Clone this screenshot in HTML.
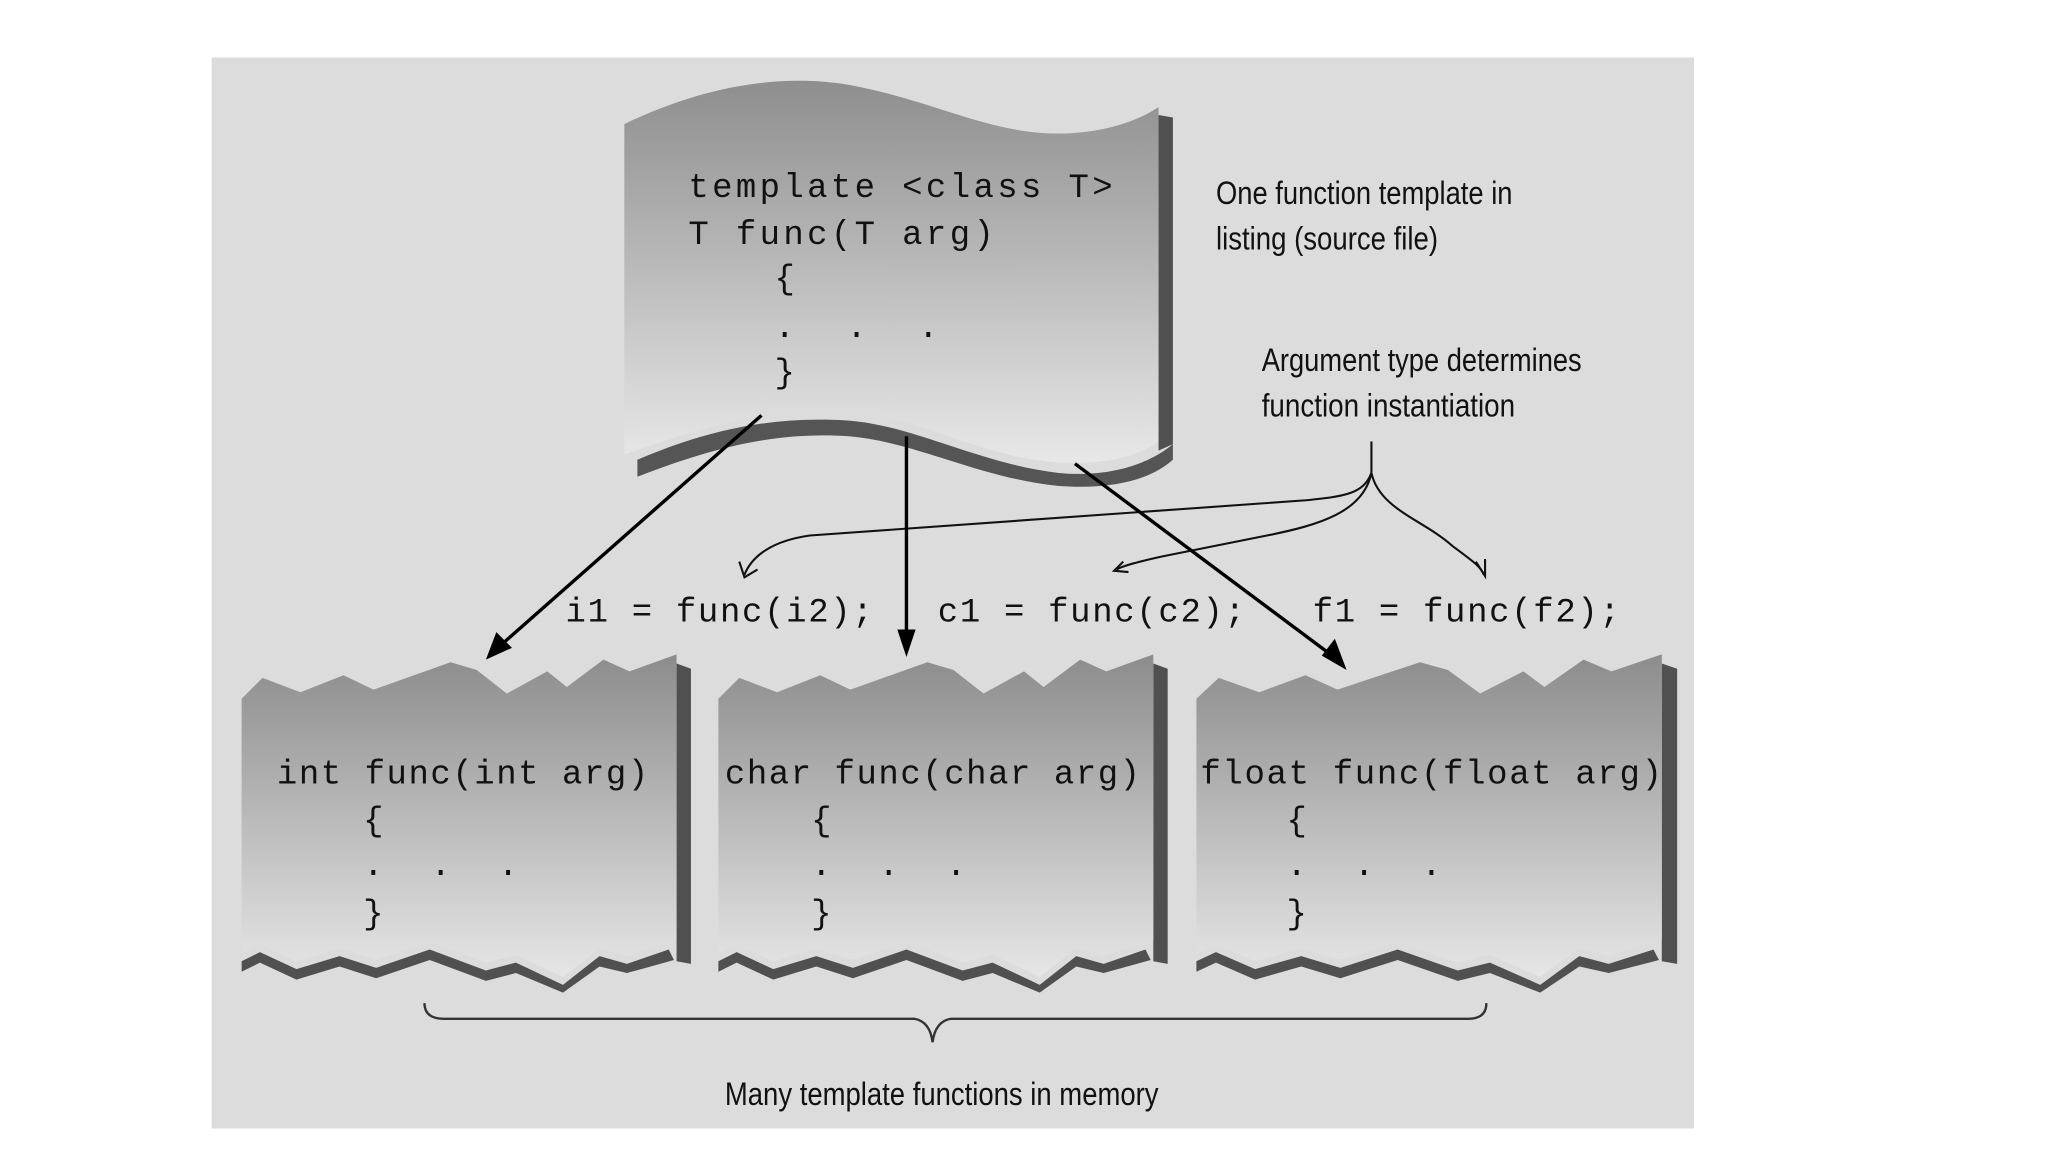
<!DOCTYPE html>
<html><head><meta charset="utf-8"><style>
html,body{margin:0;padding:0;background:#fff;}
svg{display:block;}
.m{font-family:"Liberation Mono","DejaVu Sans Mono",monospace;font-size:26px;fill:#111;}
.s{font-family:"Liberation Sans Narrow","Liberation Sans",sans-serif;font-size:25px;fill:#111;}
</style></head><body>
<svg width="2048" height="1152" viewBox="0 0 1568 882" xmlns="http://www.w3.org/2000/svg">
<defs>
<linearGradient id="g1" x1="0" y1="0" x2="0" y2="1">
<stop offset="0" stop-color="#8e8e8e"/><stop offset="1" stop-color="#e8e8e8"/></linearGradient>
<linearGradient id="g2" x1="0" y1="0" x2="0" y2="1">
<stop offset="0" stop-color="#8c8c8c"/><stop offset="1" stop-color="#e6e6e6"/></linearGradient>
<g id="box">
<polygon points="518,508 529,512 529,738 518,736" fill="#505050"/>
<path d="M185,736 L199,729 L227,742 L260,732 L288,741 L329,727 L372,743 L395,737 L431,754 L459,732 L480,738 L512,727 L516,735 L480,745 L459,740 L431,760 L395,745 L372,751 L329,735 L288,749 L260,740 L227,750 L199,737 L185,744 Z" fill="#505050"/>
<path d="M185,535 L201,519 L230,530 L263,517 L286,528 L345,507 L365,513 L388,531 L419,514 L434,526 L462,505 L482,514 L518,501 L518,720 L512,721 L480,732 L459,726 L431,748 L395,731 L372,737 L329,721 L288,735 L260,726 L227,736 L199,723 L185,730 Z" fill="url(#g2)"/>
</g>
</defs>
<rect x="0" y="0" width="1568" height="882" fill="#fff"/>
<rect x="162" y="44" width="1135" height="820" fill="#dcdcdc"/>

<!-- top template sheet -->
<polygon points="887,88 898,90 898,340 887,345" fill="#505050"/>
<path d="M488,352 C540,330 590,318 650,322 C700,326 750,355 810,362 C850,366 880,355 898,340 L898,352 C880,368 850,375 810,372 C750,366 700,338 650,334 C590,330 540,345 488,365 Z" fill="#555"/>
<path d="M478,95 C530,70 590,55 650,65 C720,78 760,105 820,102 C850,100 872,92 887,82 L887,338 C870,350 845,356 810,354 C750,350 700,318 650,314 C590,310 530,330 478,348 Z" fill="url(#g1)"/>

<text class="m" x="527" y="151" letter-spacing="2.6">template &lt;class T&gt;</text>
<text class="m" x="527" y="187" letter-spacing="2.6">T func(T arg)</text>
<text class="m" x="593" y="221">{</text>
<text class="m" x="593" y="258" letter-spacing="11.9">. . .</text>
<text class="m" x="593" y="293">}</text>

<text class="s" x="931" y="156" textLength="227" lengthAdjust="spacingAndGlyphs">One function template in</text>
<text class="s" x="931" y="191" textLength="170" lengthAdjust="spacingAndGlyphs">listing (source file)</text>
<text class="s" x="966" y="284" textLength="245" lengthAdjust="spacingAndGlyphs">Argument type determines</text>
<text class="s" x="966" y="319" textLength="194" lengthAdjust="spacingAndGlyphs">function instantiation</text>

<!-- bottom sheets -->
<use href="#box"/>
<use href="#box" transform="translate(365,0)"/>
<use href="#box" transform="translate(916,0) scale(1.07,1) translate(-185,0)"/>

<text class="m" x="212" y="600" letter-spacing="1.2">int func(int arg)</text>
<text class="m" x="278" y="636">{</text>
<text class="m" x="278" y="670" letter-spacing="10.2">. . .</text>
<text class="m" x="278" y="707">}</text>
<text class="m" x="555" y="600" letter-spacing="1.2">char func(char arg)</text>
<text class="m" x="621" y="636">{</text>
<text class="m" x="621" y="670" letter-spacing="10.2">. . .</text>
<text class="m" x="621" y="707">}</text>
<text class="m" x="919" y="600" letter-spacing="1.3">float func(float arg)</text>
<text class="m" x="985" y="636">{</text>
<text class="m" x="985" y="670" letter-spacing="10.2">. . .</text>
<text class="m" x="985" y="707">}</text>

<text class="m" x="433" y="476" letter-spacing="1.3">i1 = func(i2);</text>
<text class="m" x="718" y="476" letter-spacing="1.3">c1 = func(c2);</text>
<text class="m" x="1005" y="476" letter-spacing="1.3">f1 = func(f2);</text>

<!-- brace arrows -->
<g fill="none" stroke="#111" stroke-width="1.6">
<path d="M1050,338 L1050,362"/>
<path d="M1050,362 C1044,378 1030,380 1000,383 L620,410 C592,414 576,425 570,440"/>
<path d="M1050,362 C1044,392 1010,402 970,410 L890,426 C872,430 860,433 855,436"/>
<path d="M1050,362 C1056,390 1090,398 1112,418 C1128,430 1134,434 1136,440"/>
<path d="M566,430 L570,442 L580,436"/>
<path d="M860,430 L853,437 L864,438"/>
<path d="M1130,430 L1137,441 L1137,428"/>
</g>

<!-- main arrows -->
<g stroke="#000" stroke-width="2.6">
<line x1="583" y1="318" x2="380" y2="497"/>
<line x1="694" y1="334" x2="694" y2="490"/>
<line x1="823" y1="355" x2="1024" y2="505"/>
</g>
<polygon points="372,505 380,484 392,496" fill="#000"/>
<polygon points="694,503 687,482 701,482" fill="#000"/>
<polygon points="1031,513 1012,502 1022,489" fill="#000"/>

<!-- bottom brace -->
<path d="M325,768 Q325,780 340,780 L700,780 Q712,782 714,798 Q716,782 728,780 L1124,780 Q1138,780 1138,768" fill="none" stroke="#333" stroke-width="1.8"/>
<text class="s" x="555" y="846" textLength="332" lengthAdjust="spacingAndGlyphs">Many template functions in memory</text>
</svg>
</body></html>
